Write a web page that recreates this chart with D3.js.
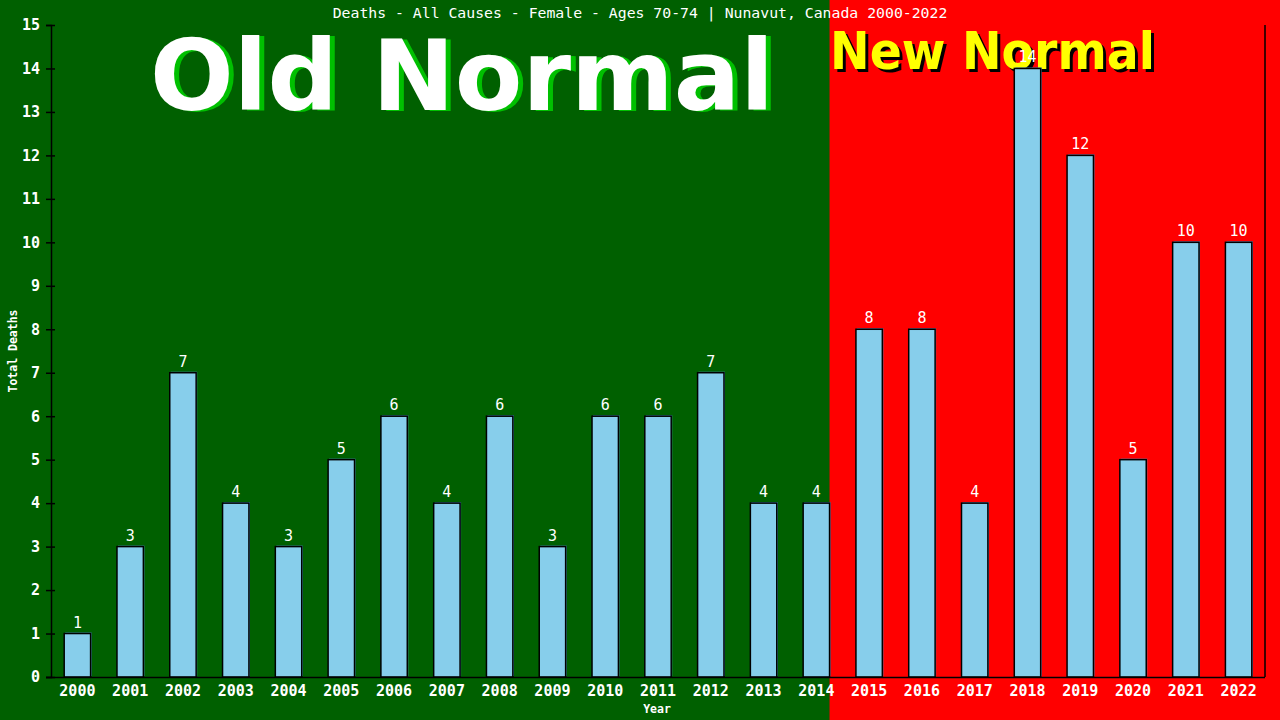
<!DOCTYPE html>
<html>
<head>
<meta charset="utf-8">
<script src="https://cdn.jsdelivr.net/npm/d3@7"></script>
<style>
  body { margin: 0; background: #006000; }
  svg text { font-family: "DejaVu Sans Mono", "Liberation Mono", monospace; }
</style>
</head>
<body>
<div id="chart"></div>
<script>
// chart data
const years = ["2000","2001","2002","2003","2004","2005","2006","2007","2008","2009","2010","2011",
               "2012","2013","2014","2015","2016","2017","2018","2019","2020","2021","2022"];
const deaths = [1, 3, 7, 4, 3, 5, 6, 4, 6, 3, 6, 6, 7, 4, 4, 8, 8, 4, 14, 12, 5, 10, 10];
const yTicks = [0,1,2,3,4,5,6,7,8,9,10,11,12,13,14,15];
const lastOldYear = "2014";
const title = "Deaths - All Causes - Female - Ages 70-74 | Nunavut, Canada 2000-2022";

const width = 1280, height = 720;
const margin = { top: 25, right: 15, bottom: 43, left: 51 };

const svg = d3.select("#chart").append("svg")
    .attr("width", width)
    .attr("height", height);

const x = d3.scaleBand()
    .domain(years)
    .range([margin.left, width - margin.right])
    .paddingInner(0.5)
    .paddingOuter(0.25);

const y = d3.scaleLinear()
    .domain([0, 15])
    .range([height - margin.bottom, margin.top]);

// background split: old normal (green) / new normal (red)
const split = x(lastOldYear) + x.bandwidth();
svg.append("rect").attr("x", 0).attr("y", 0).attr("width", split).attr("height", height).attr("fill", "#006000");
svg.append("rect").attr("x", split).attr("y", 0).attr("width", width - split).attr("height", height).attr("fill", "#ff0000");

// big labels with drop shadow
function shadowText(txt, tx, ty, size, len, fill, shadow, dx, dy) {
    const g = svg.append("g")
        .attr("font-weight", "bold")
        .attr("font-size", size);
    [[tx + dx, ty + dy, shadow], [tx, ty, fill]].forEach(([px, py, c]) => {
        g.append("text").attr("x", px).attr("y", py).attr("fill", c)
            .attr("textLength", len).attr("lengthAdjust", "spacingAndGlyphs")
            .style("font-family", "'DejaVu Sans', Verdana, sans-serif").text(txt);
    });
}
shadowText("Old Normal", 150, 110, 98, 624, "#ffffff", "#00c000", 5, 1);
shadowText("New Normal", 830, 69, 52, 325, "#ffff00", "#000000", 3, 3);

// title
svg.append("text")
    .attr("x", width / 2).attr("y", 18)
    .attr("text-anchor", "middle")
    .attr("fill", "#fff")
    .attr("font-size", 14.8)
    .text(title);

// bars
const bars = svg.append("g").selectAll("g").data(deaths).join("g");
bars.append("rect")
    .attr("x", (d, i) => x(years[i]) + 1)
    .attr("y", d => y(d) - 1)
    .attr("width", x.bandwidth())
    .attr("height", d => y(0) - y(d))
    .attr("fill", "#4a8bc0");
bars.append("rect")
    .attr("x", (d, i) => x(years[i]))
    .attr("y", d => y(d))
    .attr("width", x.bandwidth())
    .attr("height", d => y(0) - y(d))
    .attr("fill", "#87ceeb")
    .attr("stroke", "#000")
    .attr("stroke-width", 1.5);
bars.append("text")
    .attr("x", (d, i) => x(years[i]) + x.bandwidth() / 2)
    .attr("y", d => y(d) - 6)
    .attr("text-anchor", "middle")
    .attr("fill", "#fff")
    .attr("font-size", 15)
    .text(d => d);

// axes
const yAxis = svg.append("g")
    .attr("transform", `translate(${margin.left},0)`)
    .call(d3.axisLeft(y).tickValues(yTicks).tickSize(5).tickFormat(d3.format("d")));
yAxis.selectAll(".tick line").attr("x2", 4).attr("x1", -5);
yAxis.selectAll("text").attr("fill", "#fff").attr("font-size", 15).attr("font-weight", "bold")
    .attr("x", -11).style("font-family", "'DejaVu Sans Mono', monospace");

const xAxis = svg.append("g")
    .attr("transform", `translate(0,${y(0)})`)
    .call(d3.axisBottom(x).tickSize(0));
xAxis.select(".domain").attr("d", `M${margin.left - 5},0.5H${width - margin.right}`);
xAxis.selectAll("text").attr("fill", "#fff").attr("font-size", 15).attr("font-weight", "bold")
    .attr("dy", "0.71em").attr("y", 8).style("font-family", "'DejaVu Sans Mono', monospace");

svg.selectAll(".domain, .tick line").attr("stroke", "#000").attr("stroke-width", 1.5);

// right border
svg.append("line")
    .attr("x1", width - margin.right).attr("x2", width - margin.right)
    .attr("y1", y(15)).attr("y2", y(0))
    .attr("stroke", "#000").attr("stroke-width", 1.5);

// axis titles
svg.append("text")
    .attr("transform", `translate(17,${(y(0) + y(15)) / 2}) rotate(-90)`)
    .attr("text-anchor", "middle")
    .attr("fill", "#fff").attr("font-size", 11.5).attr("font-weight", "bold")
    .text("Total Deaths");
svg.append("text")
    .attr("x", 657).attr("y", 713)
    .attr("text-anchor", "middle")
    .attr("fill", "#fff").attr("font-size", 11.5).attr("font-weight", "bold")
    .text("Year");
</script>
</body>
</html>
